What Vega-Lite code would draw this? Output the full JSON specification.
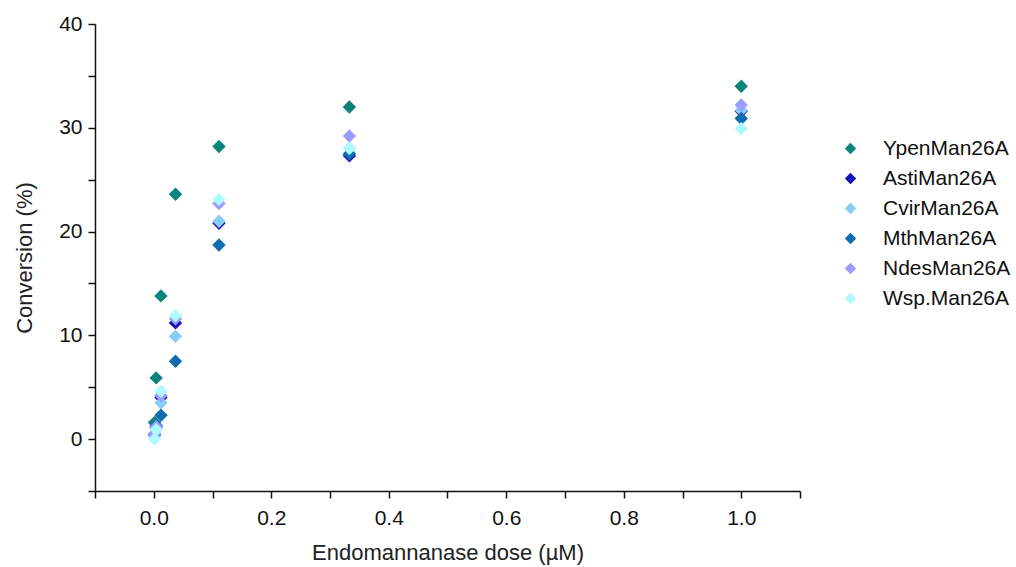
{
  "$schema": "https://vega.github.io/schema/vega-lite/v6.json",
  "width": 705,
  "height": 467,
  "autosize": "none",
  "padding": {"left": 95, "top": 24, "right": 216, "bottom": 76},
  "background": "white",
  "config": {
    "view": {"stroke": null},
    "font": "Liberation Sans",
    "axis": {"grid": false, "domainColor": "#111", "tickColor": "#111", "labelColor": "#111", "titleColor": "#222", "labelFont": "Liberation Sans", "titleFont": "Liberation Sans", "titleFontWeight": "normal", "domainWidth": 1.5, "tickWidth": 1.5}
  },
  "data": {"values": [
    {"dose": 1.0, "conv": 34.0, "enzyme": "YpenMan26A"},
    {"dose": 0.333, "conv": 32.0, "enzyme": "YpenMan26A"},
    {"dose": 0.111, "conv": 28.2, "enzyme": "YpenMan26A"},
    {"dose": 0.037, "conv": 23.6, "enzyme": "YpenMan26A"},
    {"dose": 0.0123, "conv": 13.8, "enzyme": "YpenMan26A"},
    {"dose": 0.0041, "conv": 5.9, "enzyme": "YpenMan26A"},
    {"dose": 0.00137, "conv": 1.6, "enzyme": "YpenMan26A"},
    {"dose": 1.0, "conv": 31.6, "enzyme": "AstiMan26A"},
    {"dose": 0.333, "conv": 27.3, "enzyme": "AstiMan26A"},
    {"dose": 0.111, "conv": 20.8, "enzyme": "AstiMan26A"},
    {"dose": 0.037, "conv": 11.2, "enzyme": "AstiMan26A"},
    {"dose": 0.0123, "conv": 4.0, "enzyme": "AstiMan26A"},
    {"dose": 0.0041, "conv": 1.2, "enzyme": "AstiMan26A"},
    {"dose": 0.00137, "conv": 0.4, "enzyme": "AstiMan26A"},
    {"dose": 1.0, "conv": 31.7, "enzyme": "CvirMan26A"},
    {"dose": 0.333, "conv": 28.0, "enzyme": "CvirMan26A"},
    {"dose": 0.111, "conv": 21.0, "enzyme": "CvirMan26A"},
    {"dose": 0.037, "conv": 9.9, "enzyme": "CvirMan26A"},
    {"dose": 0.0123, "conv": 3.5, "enzyme": "CvirMan26A"},
    {"dose": 0.0041, "conv": 1.0, "enzyme": "CvirMan26A"},
    {"dose": 0.00137, "conv": 0.3, "enzyme": "CvirMan26A"},
    {"dose": 1.0, "conv": 30.9, "enzyme": "MthMan26A"},
    {"dose": 0.333, "conv": 27.5, "enzyme": "MthMan26A"},
    {"dose": 0.111, "conv": 18.7, "enzyme": "MthMan26A"},
    {"dose": 0.037, "conv": 7.5, "enzyme": "MthMan26A"},
    {"dose": 0.0123, "conv": 2.3, "enzyme": "MthMan26A"},
    {"dose": 0.0041, "conv": 1.3, "enzyme": "MthMan26A"},
    {"dose": 0.00137, "conv": 0.5, "enzyme": "MthMan26A"},
    {"dose": 1.0, "conv": 32.2, "enzyme": "NdesMan26A"},
    {"dose": 0.333, "conv": 29.2, "enzyme": "NdesMan26A"},
    {"dose": 0.111, "conv": 22.7, "enzyme": "NdesMan26A"},
    {"dose": 0.037, "conv": 11.6, "enzyme": "NdesMan26A"},
    {"dose": 0.0123, "conv": 4.2, "enzyme": "NdesMan26A"},
    {"dose": 0.0041, "conv": 1.2, "enzyme": "NdesMan26A"},
    {"dose": 0.00137, "conv": 0.5, "enzyme": "NdesMan26A"},
    {"dose": 1.0, "conv": 29.9, "enzyme": "Wsp.Man26A"},
    {"dose": 0.333, "conv": 28.0, "enzyme": "Wsp.Man26A"},
    {"dose": 0.111, "conv": 23.1, "enzyme": "Wsp.Man26A"},
    {"dose": 0.037, "conv": 11.9, "enzyme": "Wsp.Man26A"},
    {"dose": 0.0123, "conv": 4.6, "enzyme": "Wsp.Man26A"},
    {"dose": 0.0041, "conv": 0.9, "enzyme": "Wsp.Man26A"},
    {"dose": 0.00137, "conv": 0.0, "enzyme": "Wsp.Man26A"}
  ]},
  "mark": {"type": "point", "shape": "diamond", "filled": true, "opacity": 1, "size": 180},
  "encoding": {
    "x": {
      "field": "dose", "type": "quantitative",
      "scale": {"domain": [-0.1, 1.1], "nice": false, "zero": false},
      "axis": {
        "title": "Endomannanase dose (µM)", "titleFontSize": 22, "titlePadding": 14,
        "values": [-0.1, 0, 0.1, 0.2, 0.3, 0.4, 0.5, 0.6, 0.7, 0.8, 0.9, 1.0, 1.1],
        "labelExpr": "abs(round(datum.value*10)) % 2 == 0 ? format(datum.value, '.1f') : ''",
        "labelFontSize": 21, "tickSize": 7, "labelPadding": 9, "labelFlush": false
      }
    },
    "y": {
      "field": "conv", "type": "quantitative",
      "scale": {"domain": [-5, 40], "nice": false, "zero": false},
      "axis": {
        "title": "Conversion (%)", "titleFontSize": 22, "titlePadding": 22,
        "values": [-5, 0, 5, 10, 15, 20, 25, 30, 35, 40],
        "labelExpr": "datum.value % 10 == 0 ? format(datum.value, 'd') : ''",
        "labelFontSize": 21, "tickSize": 7, "labelPadding": 6, "labelFlush": false
      }
    },
    "color": {
      "field": "enzyme", "type": "nominal",
      "scale": {
        "domain": ["YpenMan26A", "AstiMan26A", "CvirMan26A", "MthMan26A", "NdesMan26A", "Wsp.Man26A"],
        "range": ["#0B847C", "#1414B4", "#88CCF8", "#0E6CB0", "#9A9CFF", "#B0FAFF"]
      },
      "legend": {
        "title": null, "orient": "none", "legendX": 745, "legendY": 114,
        "labelFontSize": 21, "labelColor": "#111", "symbolSize": 130, "symbolType": "diamond",
        "rowPadding": 8, "labelOffset": 22, "symbolOpacity": 1
      }
    }
  }
}
